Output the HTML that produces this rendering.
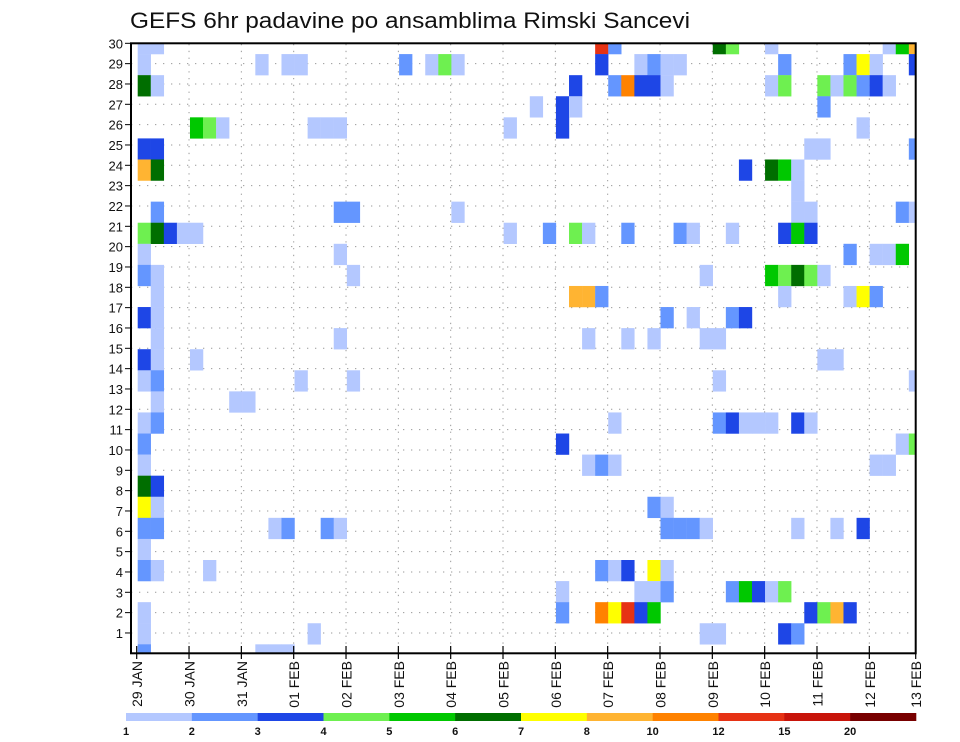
<!DOCTYPE html>
<html><head><meta charset="utf-8"><style>
html,body{margin:0;padding:0;background:#fff;}
svg{display:block;font-family:"Liberation Sans",sans-serif;}
</style></head><body>
<svg id="chart" width="960" height="742" viewBox="0 0 960 742">
<defs><clipPath id="plotclip"><rect x="131" y="43.3" width="784.7" height="610"/></clipPath></defs>
<text x="130" y="28" font-size="22" fill="#111" textLength="560" lengthAdjust="spacingAndGlyphs">GEFS 6hr padavine po ansamblima Rimski Sancevi</text>
<g id="grid"></g>
<g id="cells" clip-path="url(#plotclip)"></g>
<rect x="131" y="43.3" width="784.7" height="610" fill="none" stroke="#000" stroke-width="2"/>
<g id="yaxis"></g>
<g id="xaxis"></g>
<g id="colorbar"></g>
</svg>
<script>
// precipitation cells: [member, step(6h index), value mm]
const precip = [
[30,0,1.5],[30,1,1.5],[30,35,13.5],[30,36,2.5],[30,44,6.5],[30,45,4.5],[30,48,1.5],[30,57,1.5],[30,58,5.5],[30,59,9],
[29,0,1.5],[29,9,1.5],[29,11,1.5],[29,12,1.5],[29,20,2.5],[29,22,1.5],[29,23,4.5],[29,24,1.5],[29,35,3.5],[29,38,1.5],[29,39,2.5],[29,40,1.5],[29,41,1.5],[29,49,2.5],[29,54,2.5],[29,55,7.5],[29,56,1.5],[29,59,3.5],
[28,0,6.5],[28,1,1.5],[28,33,3.5],[28,36,2.5],[28,37,11],[28,38,3.5],[28,39,3.5],[28,40,1.5],[28,48,1.5],[28,49,4.5],[28,52,4.5],[28,53,1.5],[28,54,4.5],[28,55,2.5],[28,56,3.5],[28,57,1.5],
[27,30,1.5],[27,32,3.5],[27,33,1.5],[27,52,2.5],
[26,4,5.5],[26,5,4.5],[26,6,1.5],[26,13,1.5],[26,14,1.5],[26,15,1.5],[26,28,1.5],[26,32,3.5],[26,55,1.5],
[25,0,3.5],[25,1,3.5],[25,51,1.5],[25,52,1.5],[25,59,2.5],
[24,0,9],[24,1,6.5],[24,46,3.5],[24,48,6.5],[24,49,5.5],[24,50,1.5],
[23,50,1.5],
[22,1,2.5],[22,15,2.5],[22,16,2.5],[22,24,1.5],[22,50,1.5],[22,51,1.5],[22,58,2.5],[22,59,1.5],
[21,0,4.5],[21,1,6.5],[21,2,3.5],[21,3,1.5],[21,4,1.5],[21,28,1.5],[21,31,2.5],[21,33,4.5],[21,34,1.5],[21,37,2.5],[21,41,2.5],[21,42,1.5],[21,45,1.5],[21,49,3.5],[21,50,5.5],[21,51,3.5],
[20,0,1.5],[20,15,1.5],[20,54,2.5],[20,56,1.5],[20,57,1.5],[20,58,5.5],
[19,0,2.5],[19,1,1.5],[19,16,1.5],[19,43,1.5],[19,48,5.5],[19,49,4.5],[19,50,6.5],[19,51,4.5],[19,52,1.5],
[18,1,1.5],[18,33,9],[18,34,9],[18,35,2.5],[18,49,1.5],[18,54,1.5],[18,55,7.5],[18,56,2.5],
[17,0,3.5],[17,1,1.5],[17,40,2.5],[17,42,1.5],[17,45,2.5],[17,46,3.5],
[16,1,1.5],[16,15,1.5],[16,34,1.5],[16,37,1.5],[16,39,1.5],[16,43,1.5],[16,44,1.5],
[15,0,3.5],[15,1,1.5],[15,4,1.5],[15,52,1.5],[15,53,1.5],
[14,0,1.5],[14,1,2.5],[14,12,1.5],[14,16,1.5],[14,44,1.5],[14,59,1.5],
[13,1,1.5],[13,7,1.5],[13,8,1.5],
[12,0,1.5],[12,1,2.5],[12,36,1.5],[12,44,2.5],[12,45,3.5],[12,46,1.5],[12,47,1.5],[12,48,1.5],[12,50,3.5],[12,51,1.5],
[11,0,2.5],[11,32,3.5],[11,58,1.5],[11,59,4.5],
[10,0,1.5],[10,34,1.5],[10,35,2.5],[10,36,1.5],[10,56,1.5],[10,57,1.5],
[9,0,6.5],[9,1,3.5],
[8,0,7.5],[8,1,1.5],[8,39,2.5],[8,40,1.5],
[7,0,2.5],[7,1,2.5],[7,10,1.5],[7,11,2.5],[7,14,2.5],[7,15,1.5],[7,40,2.5],[7,41,2.5],[7,42,2.5],[7,43,1.5],[7,50,1.5],[7,53,1.5],[7,55,3.5],
[6,0,1.5],
[5,0,2.5],[5,1,1.5],[5,5,1.5],[5,35,2.5],[5,36,1.5],[5,37,3.5],[5,39,7.5],[5,40,1.5],
[4,32,1.5],[4,38,1.5],[4,39,1.5],[4,40,2.5],[4,45,2.5],[4,46,5.5],[4,47,3.5],[4,48,1.5],[4,49,4.5],
[3,0,1.5],[3,32,2.5],[3,35,11],[3,36,7.5],[3,37,13.5],[3,38,3.5],[3,39,5.5],[3,51,3.5],[3,52,4.5],[3,53,9],[3,54,3.5],
[2,0,1.5],[2,13,1.5],[2,43,1.5],[2,44,1.5],[2,49,3.5],[2,50,2.5],
[1,0,2.5],[1,9,1.5],[1,10,1.5],[1,11,1.5]
];
const levelBounds = [1,2,3,4,5,6,7,8,10,12,15,20];
const levelColors = ["#b4c8ff","#6496ff","#1e46e6","#6ef050","#00c800","#006e00","#ffff00","#ffb432","#ff8200","#e63214","#c8140a","#780000"];
const dayLabels = ["29 JAN","30 JAN","31 JAN","01 FEB","02 FEB","03 FEB","04 FEB","05 FEB","06 FEB","07 FEB","08 FEB","09 FEB","10 FEB","11 FEB","12 FEB","13 FEB"];
const memberTicks = [1,2,3,4,5,6,7,8,9,10,11,12,13,14,15,16,17,18,19,20,21,22,23,24,25,26,27,28,29,30];

const NS="http://www.w3.org/2000/svg";
function mk(tag,attrs,parent){const e=document.createElementNS(NS,tag);for(const k in attrs)e.setAttribute(k,attrs[k]);parent.appendChild(e);return e;}
const stepW=13.07, cellH=21.08;
function xStep(s){return 137.7+stepW*s;}
function yCellTop(m){return 33+(30-m)*cellH;}
function yTick(m){return 653.3-20.333*m;}
function xDay(d){return Math.min(136.7+52.33*d,915.7);}
function colorFor(v){let i=0;for(let j=0;j<levelBounds.length;j++){if(v>=levelBounds[j])i=j;}return levelColors[i];}

const grid=document.getElementById('grid');
for(let r=1;r<30;r++){
  const l=mk('line',{x1:131,x2:916,y1:yTick(r),y2:yTick(r),stroke:'#999','stroke-width':1,'stroke-dasharray':'1.3,6.7'},grid);
  
  
}
for(let d=1;d<15;d++){
  const l=mk('line',{x1:xDay(d),x2:xDay(d),y1:44,y2:653,stroke:'#999','stroke-width':1,'stroke-dasharray':'1.3,5.5'},grid);
  
  
}
const cellsG=document.getElementById('cells');
precip.forEach(p=>{
  const r=mk('rect',{x:xStep(p[1]),y:yCellTop(p[0]),width:stepW+0.2,height:cellH+0.2,fill:colorFor(p[2])},cellsG);
  
  
});
const ya=document.getElementById('yaxis');
memberTicks.forEach(m=>{
  const y=yTick(m);
  const t=mk('line',{x1:125,x2:131,y1:y,y2:y,stroke:'#000','stroke-width':1},ya);
  
  
  const tx=mk('text',{x:123,y:y+5,'font-size':13,'text-anchor':'end',fill:'#111'},ya);
  tx.textContent=m;
  
  
});
const xa=document.getElementById('xaxis');
dayLabels.forEach((lab,d)=>{
  const x=xDay(d);
  const t=mk('line',{x1:x,x2:x,y1:646,y2:659,stroke:'#000','stroke-width':1.2},xa);
  
  
  const tx=mk('text',{x:0,y:0,'font-size':14,'text-anchor':'end',fill:'#111',transform:`translate(${x+5.5},661) rotate(-90)`},xa);
  tx.textContent=lab;
  
  
});
const cb=document.getElementById('colorbar');
const segW=(916-126)/levelColors.length;
levelColors.forEach((c,i)=>{
  const r=mk('rect',{x:126+segW*i,y:713,width:segW+0.3,height:8,fill:c},cb);
  
  
  const tx=mk('text',{x:126+segW*i,y:735,'font-size':11,'font-weight':'bold','text-anchor':'middle',fill:'#111'},cb);
  tx.textContent=levelBounds[i];
  
  
});
</script>
</body></html>
